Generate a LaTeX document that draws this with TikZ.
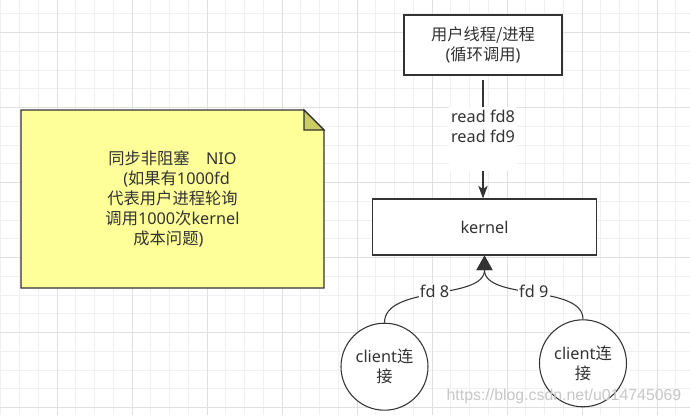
\documentclass[tikz,border=0pt]{standalone}
\usepackage{fontspec}
\setmainfont{Noto Sans}
\newfontfamily\cjkfont{Noto Sans CJK SC}
\newfontfamily\markfont{Liberation Sans}
\usetikzlibrary{arrows.meta}

\definecolor{inkgray}{HTML}{333333}
\definecolor{gridminor}{HTML}{F0F0F0}
\definecolor{gridmajor}{HTML}{E0E0E0}
\definecolor{notefill}{HTML}{FFFF99}
\definecolor{notefold}{HTML}{CCCC66}

\newcommand{\zh}[1]{{\cjkfont #1}}

\begin{document}
\begin{tikzpicture}[
    x=0.75pt, y=-0.75pt,
    labelfont/.style={font=\fontsize{12.2}{15}\selectfont},
    box/.style={draw=inkgray, line width=0.8pt, rectangle, fill=white, text=inkgray, inner sep=0pt, align=center, labelfont},
    client/.style={draw=inkgray, line width=0.8pt, circle, fill=white, text=inkgray, minimum size=65.25pt, inner sep=0pt, align=center, labelfont},
    notebody/.style={draw=inkgray, line width=0.8pt, fill=notefill},
    notecorner/.style={draw=inkgray, line width=0.8pt, fill=notefold},
    notetext/.style={text=inkgray, align=center, inner sep=0pt, labelfont},
    onlabel/.style={fill=white, text=inkgray, align=center, inner sep=1pt, labelfont},
    arrow/.style={draw=inkgray, line width=0.8pt, -{Stealth[length=9.5pt, width=7pt, inset=2.5pt]}},
    link/.style={draw=inkgray, line width=0.8pt, -{Triangle[length=11pt, width=12pt]}},
    gridline/.style={draw=gridminor, line width=0.75pt},
    gridbold/.style={draw=gridmajor, line width=0.75pt}
]

    % Canvas and grid
    \useasboundingbox[fill=white] (0,0) rectangle (690,415);
    \foreach \gx in {0,...,36} \draw[gridline] ({0.75+18.75*\gx},0) -- ++(0,415);
    \foreach \gy in {0,...,21} \draw[gridline] (0,{13.95+18.75*\gy}) -- ++(690,0);
    \foreach \gx in {0,...,8} \draw[gridbold] ({57+75*\gx},0) -- ++(0,415);
    \foreach \gy in {0,...,5} \draw[gridbold] (0,{32.7+75*\gy}) -- ++(690,0);

    % Note
    \draw[notebody] (21,110) -- (304,110) -- (324,130) -- (324,288) -- (21,288) -- cycle;
    \draw[notecorner] (304,110) -- (304,130) -- (324,130) -- cycle;
    \node[notetext] (note) at (172.5,199) {\zh{同步非阻塞}\hspace{1em}NIO\\\hspace*{0.5em}(\zh{如果有}1000fd\\\zh{代表用户进程轮询}\\\zh{调用}1000\zh{次}kernel\\\zh{成本问题})\hspace*{0.5em}};

    % Process and kernel
    \node[box, minimum width=118.5pt, minimum height=45pt] (user) at (483,45) {\zh{用户线程/进程}\\(\zh{循环调用})};
    \node[box, minimum width=168pt, minimum height=42pt] (kernel) at (484.5,227) {kernel};

    % Clients
    \node[client] (client_a) at (384.5,366.7) {client\zh{连}\\\zh{接}};
    \node[client] (client_b) at (583,363.3) {client\zh{连}\\\zh{接}};

    % Connections
    \draw[arrow, shorten <=3pt] (user.south) -- node[onlabel, pos=0.52, minimum width=51pt, minimum height=48pt, inner sep=0pt] {read fd8\\read fd9\\\strut} (user.south |- kernel.north);
    \draw[link] (client_a.north) .. controls +(0,-38) and +(0,45) .. node[onlabel] {fd 8} (kernel.south);
    \draw[link] (client_b.north) .. controls +(0,-35) and +(0,45) .. node[onlabel] {fd 9} (kernel.south);

    % Watermark
    \node[text=black!22, inner sep=0pt, font=\markfont\fontsize{11.9}{14}\selectfont] (mark) at (564,396) {https://blog.csdn.net/u014745069};

\end{tikzpicture}
\end{document}
